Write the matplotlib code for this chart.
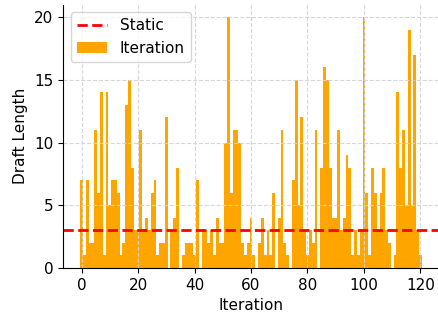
import numpy as np
import matplotlib
matplotlib.use("Agg")
import matplotlib.pyplot as plt

# draft length per iteration
draft_len = [7, 1, 7, 2, 2, 11, 6, 14, 1, 14, 5, 7, 7, 6, 1, 2, 13, 15, 8,
             3, 3, 11, 3, 4, 3, 6, 7, 1, 2, 2, 12, 0, 3, 4, 8, 0, 1, 2, 2, 2, 1, 7, 0,
             3, 3, 2, 3, 1, 4, 2, 2, 10, 20, 6, 11, 11, 10,
             2, 1, 2, 4, 1, 0, 2, 4, 1, 3, 1, 6, 0, 4, 11, 2, 1, 0, 7, 15, 5, 12, 3,
             1, 3, 2, 11, 0, 8, 16, 15, 8, 4, 4, 11, 3, 4, 9, 8, 1, 3, 1, 3,
             20, 6, 1, 8, 6, 3, 6, 8, 3, 2, 0, 1, 14, 8, 11, 5, 19, 5, 17, 3, 1]
iterations = np.arange(len(draft_len))
static_len = 3

fig = plt.figure(figsize=(4.38, 3.18), dpi=100)
ax = fig.add_axes([63/438, 50/318, 376/438, 263.5/318])

ax.bar(iterations, draft_len, width=1.0, color="orange", label="Iteration")
ax.axhline(static_len, color="red", linestyle="--", linewidth=2, label="Static")

ax.set_xlabel("Iteration", fontsize=11)
ax.set_ylabel("Draft Length", fontsize=11)
ax.set_xticks(np.arange(0, 121, 20))
ax.set_yticks(np.arange(0, 21, 5))
ax.tick_params(labelsize=11)
ax.grid(True, linestyle="--", color="lightgray", alpha=0.9)
ax.spines["top"].set_visible(False)
ax.spines["right"].set_visible(False)
ax.legend(loc="upper left", fontsize=11)

plt.savefig("out.png", dpi=100)
